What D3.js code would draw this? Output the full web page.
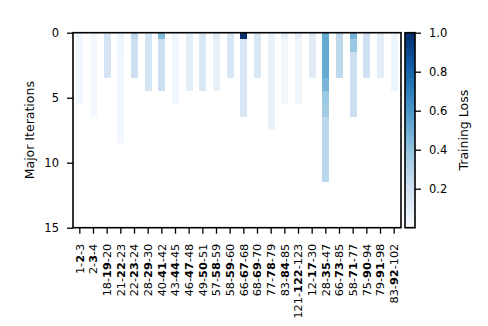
<!DOCTYPE html>
<html>
<head>
<meta charset="utf-8">
<script src="https://cdn.jsdelivr.net/npm/d3@7"></script>
<style>
  body { margin: 0; background: #fff; }
  text { font-family: "DejaVu Sans", sans-serif; }
</style>
</head>
<body>
<svg id="chart" width="488" height="326"></svg>
<script>
// window labels: low-MID-high, the middle one is drawn bold
const lows  = ['1', '2', '18', '21', '22', '28', '40', '43', '46', '49', '57', '58',
               '66', '68', '77', '83', '121', '12', '28', '66', '58', '75', '79', '83'];
const mids  = ['2', '3', '19', '22', '23', '29', '41', '44', '47', '50', '58', '59',
               '67', '69', '78', '84', '122', '17', '35', '73', '71', '90', '91', '92'];
const highs = ['3', '4', '20', '23', '24', '30', '42', '45', '48', '51', '59', '60',
               '68', '70', '79', '85', '123', '30', '47', '85', '77', '94', '98', '102'];

// training loss per major iteration, one list per window
const losses = [
  [0.04, 0.03, 0.03, 0.03, 0.03, 0.03],
  [0.03, 0.02, 0.02, 0.02, 0.02, 0.02, 0.02],
  [0.17, 0.17, 0.17, 0.17],
  [0.06, 0.04, 0.03, 0.03, 0.03, 0.03, 0.03, 0.03, 0.03],
  [0.28, 0.21, 0.21, 0.21],
  [0.18, 0.18, 0.18, 0.18, 0.18],
  [0.45, 0.22, 0.22, 0.22, 0.22],
  [0.04, 0.03, 0.03, 0.03, 0.03, 0.03],
  [0.10, 0.10, 0.10, 0.10, 0.10],
  [0.15, 0.15, 0.15, 0.15, 0.15],
  [0.13, 0.08, 0.08, 0.08, 0.08],
  [0.16, 0.16, 0.16, 0.16],
  [1.00, 0.16, 0.16, 0.16, 0.16, 0.16, 0.16],
  [0.15, 0.15, 0.15, 0.15],
  [0.07, 0.07, 0.07, 0.07, 0.07, 0.07, 0.07, 0.07],
  [0.09, 0.04, 0.04, 0.04, 0.04, 0.04],
  [0.09, 0.04, 0.04, 0.04, 0.04, 0.04],
  [0.12, 0.12, 0.12, 0.12],
  [0.52, 0.52, 0.52, 0.52, 0.47, 0.38, 0.36, 0.28, 0.28, 0.28, 0.28, 0.28],
  [0.27, 0.27, 0.27, 0.27],
  [0.48, 0.38, 0.22, 0.22, 0.22, 0.22, 0.22],
  [0.20, 0.20, 0.20, 0.20],
  [0.10, 0.10, 0.10, 0.10],
  [0.05, 0.05, 0.05, 0.05, 0.05]
];

const cbTicks = [0.2, 0.4, 0.6, 0.8, 1.0];
const yTicks = [0, 5, 10, 15];

const svg = d3.select('#chart');
const plotLeft = 73, plotRight = 401, plotTop = 32.7, plotBottom = 227.7;

const keys = lows.map((d, i) => i);
const x = d3.scaleBand()
  .domain(keys)
  .range([plotLeft, plotRight])
  .paddingInner(0.5)
  .paddingOuter(0.25);

const y = d3.scaleLinear().domain([0, 15]).range([plotTop, plotBottom]);
const color = d3.scaleSequential(d3.interpolateBlues).domain([0, 1]);

// cells
const cols = svg.append('g').selectAll('g')
  .data(losses)
  .enter().append('g');

cols.selectAll('rect')
  .data((vals, ci) => vals.map((v, r) => ({ v, r, ci })))
  .enter().append('rect')
  .attr('x', d => x(d.ci))
  .attr('width', x.bandwidth())
  .attr('y', d => y(Math.max(0, d.r - 0.5)))
  .attr('height', d => y(d.r + 0.5) - y(Math.max(0, d.r - 0.5)))
  .attr('fill', d => color(d.v))
  .attr('shape-rendering', 'crispEdges');

// frame
svg.append('rect')
  .attr('x', plotLeft).attr('y', plotTop)
  .attr('width', plotRight - plotLeft).attr('height', plotBottom - plotTop)
  .attr('fill', 'none').attr('stroke', '#000').attr('stroke-width', 1.6);

// y axis
const yAxis = svg.append('g')
  .attr('transform', `translate(${plotLeft},0)`)
  .call(d3.axisLeft(y).tickValues(yTicks).tickSize(6).tickPadding(8).tickFormat(d3.format('d')));
yAxis.select('.domain').remove();
yAxis.selectAll('line').attr('stroke-width', 1.3);
yAxis.selectAll('text').style('font-size', '11.5px').attr('fill', '#000');

// x axis
const xAxis = svg.append('g')
  .attr('transform', `translate(0,${plotBottom})`)
  .call(d3.axisBottom(x).tickSize(6).tickFormat(''));
xAxis.select('.domain').remove();
xAxis.selectAll('line').attr('stroke-width', 1.3);

const xl = svg.append('g').selectAll('text')
  .data(keys)
  .enter().append('text')
  .attr('transform', d => `translate(${x(d) + x.bandwidth() / 2},${plotBottom + 16}) rotate(-90)`)
  .attr('text-anchor', 'end')
  .attr('dy', '0.35em')
  .style('font-size', '11.3px');
xl.append('tspan').text(d => lows[d] + '-');
xl.append('tspan').attr('font-weight', 'bold').text(d => mids[d]);
xl.append('tspan').text(d => '-' + highs[d]);

svg.append('text')
  .attr('transform', `translate(30,${(plotTop + plotBottom) / 2}) rotate(-90)`)
  .attr('text-anchor', 'middle')
  .attr('dy', '0.35em')
  .style('font-size', '12.5px')
  .text('Major Iterations');

// colorbar
const cbLeft = 405, cbW = 10;
const cy = d3.scaleLinear().domain([0, 1]).range([plotBottom, plotTop]);
const grad = svg.append('defs').append('linearGradient')
  .attr('id', 'cbgrad')
  .attr('x1', 0).attr('y1', 1).attr('x2', 0).attr('y2', 0);
d3.range(0, 1.0001, 0.05).forEach(t => {
  grad.append('stop').attr('offset', t).attr('stop-color', color(t));
});
svg.append('rect')
  .attr('x', cbLeft).attr('y', plotTop)
  .attr('width', cbW).attr('height', plotBottom - plotTop)
  .attr('fill', 'url(#cbgrad)')
  .attr('stroke', '#000').attr('stroke-width', 1.6);

const cbAxis = svg.append('g')
  .attr('transform', `translate(${cbLeft + cbW},0)`)
  .call(d3.axisRight(cy).tickValues(cbTicks).tickSize(6).tickPadding(8).tickFormat(d3.format('.1f')));
cbAxis.select('.domain').remove();
cbAxis.selectAll('line').attr('stroke-width', 1.3);
cbAxis.selectAll('text').style('font-size', '11.5px').attr('fill', '#000');

svg.append('text')
  .attr('transform', `translate(464,${(plotTop + plotBottom) / 2}) rotate(-90)`)
  .attr('text-anchor', 'middle')
  .attr('dy', '0.35em')
  .style('font-size', '12.5px')
  .text('Training Loss');
</script>
</body>
</html>
